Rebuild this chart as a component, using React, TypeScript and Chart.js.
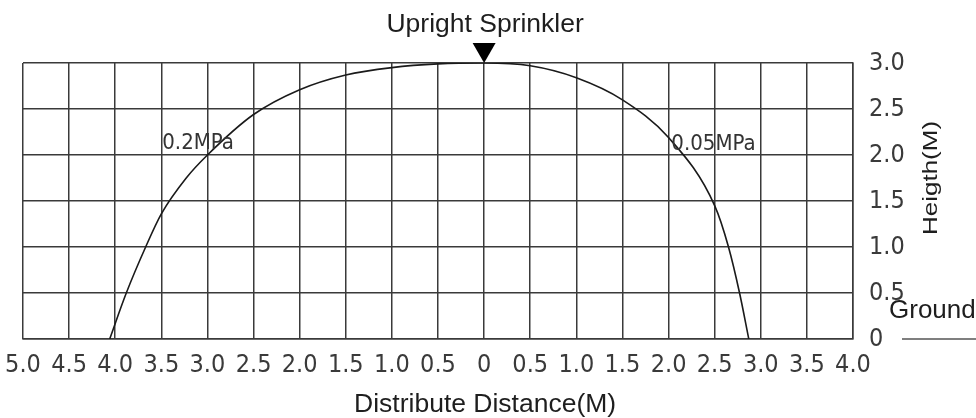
import React, { useEffect, useRef } from "react";
import { Chart, registerables } from "chart.js";

Chart.register(...registerables);

// Spray profile (distance from sprinkler in M, negative = left side)
const distance = [-4.06, -3.88, -3.67, -3.5, -3.23, -3.0, -2.5, -2.0, -1.5, -1.0, -0.5, 0, 0.5, 1.0, 1.5, 2.0, 2.5, 2.65, 2.77, 2.87];
const height = [0, 0.5, 1.0, 1.36, 1.75, 2.0, 2.44, 2.71, 2.87, 2.95, 2.99, 3.0, 2.97, 2.84, 2.6, 2.19, 1.45, 1.0, 0.5, 0];

// Axis ranges / ticks
const xMin = -5;
const xMax = 4;
const xStep = 0.5;
const yMin = 0;
const yMax = 3;
const yStep = 0.5;

// Annotations
const pressureLabels = ["0.2MPa", "0.05MPa"];
const pressureLabelX = [-3.49, 2.03];
const pressureLabelY = [2.07, 2.05];
const sprinklerX = 0;
const sprinklerY = 3;
const titleText = "Upright Sprinkler";
const xTitle = "Distribute Distance(M)";
const yTitle = "Heigth(M)";
const groundText = "Ground";

const NARROW = '"Liberation Sans Narrow", "DejaVu Sans Condensed", "Liberation Sans", sans-serif';
const SANS = '"Liberation Sans", Arial, Helvetica, sans-serif';

const fmtX = (v: number) => (Math.abs(v) < 1e-9 ? "0" : Math.abs(v).toFixed(1));
const fmtY = (v: number) => (Math.abs(v) < 1e-9 ? "0" : v.toFixed(1));

const overlay = {
  id: "overlay",
  afterDraw(chart: any) {
    const ctx = chart.ctx;
    const xs = chart.scales.x;
    const ys = chart.scales.y;
    const px0 = xs.getPixelForValue(sprinklerX);
    const pyTop = ys.getPixelForValue(sprinklerY);
    ctx.save();

    // Title
    ctx.fillStyle = "#1e1e1e";
    ctx.font = `26.5px ${SANS}`;
    ctx.textAlign = "center";
    ctx.textBaseline = "alphabetic";
    ctx.fillText(titleText, px0 + 1, 32);

    // Sprinkler triangle
    ctx.beginPath();
    ctx.moveTo(px0, pyTop);
    ctx.lineTo(px0 - 11.5, pyTop - 20);
    ctx.lineTo(px0 + 11.5, pyTop - 20);
    ctx.closePath();
    ctx.fillStyle = "#000";
    ctx.fill();

    // X title
    ctx.fillStyle = "#1e1e1e";
    ctx.font = `26.5px ${SANS}`;
    ctx.textAlign = "center";
    ctx.fillText(xTitle, px0 + 1, 412);

    // Y title (rotated)
    ctx.save();
    ctx.translate(931, 178);
    ctx.rotate(-Math.PI / 2);
    ctx.scale(1, 0.78);
    ctx.font = `26px ${SANS}`;
    ctx.textAlign = "center";
    ctx.textBaseline = "middle";
    ctx.fillText(yTitle, 0, 0);
    ctx.restore();

    // Pressure labels
    ctx.fillStyle = "#333";
    ctx.font = `22px ${NARROW}`;
    ctx.textAlign = "left";
    ctx.textBaseline = "alphabetic";
    pressureLabels.forEach((t, i) => {
      ctx.fillText(t, xs.getPixelForValue(pressureLabelX[i]), ys.getPixelForValue(pressureLabelY[i]));
    });

    // Ground label and line
    const pyGround = ys.getPixelForValue(0);
    ctx.fillStyle = "#1e1e1e";
    ctx.font = `26px ${SANS}`;
    ctx.fillText(groundText, 889, 318);
    ctx.strokeStyle = "#555";
    ctx.lineWidth = 1.5;
    ctx.beginPath();
    ctx.moveTo(902, pyGround);
    ctx.lineTo(976, pyGround);
    ctx.stroke();

    ctx.restore();
  },
};

export default function App() {
  const ref = useRef<HTMLCanvasElement | null>(null);

  useEffect(() => {
    if (!ref.current) return;
    const points = distance.map((d, i) => ({ x: d, y: height[i] }));
    const chart = new Chart(ref.current, {
      type: "line",
      data: {
        datasets: [
          {
            data: points,
            borderColor: "#1a1a1a",
            borderWidth: 1.6,
            pointRadius: 0,
            fill: false,
            cubicInterpolationMode: "monotone",
          },
        ],
      },
      options: {
        responsive: false,
        animation: false,
        events: [],
        layout: { padding: { left: 23, top: 63, right: 0, bottom: 0 } },
        plugins: {
          legend: { display: false },
          tooltip: { enabled: false },
          title: { display: false },
        },
        scales: {
          x: {
            type: "linear",
            position: "bottom",
            min: xMin,
            max: xMax,
            afterFit: (s: any) => {
              s.height = 79;
              s.paddingLeft = 0;
              s.paddingRight = 0;
            },
            ticks: {
              stepSize: xStep,
              autoSkip: false,
              maxRotation: 0,
              minRotation: 0,
              padding: 11,
              color: "#3a3a3a",
              font: { size: 25, family: NARROW },
              callback: (v: any) => fmtX(Number(v)),
            },
            grid: { color: "#3a3a3a", lineWidth: 1.5, drawTicks: false },
            border: { display: true, color: "#3a3a3a", width: 1.5 },
          },
          y: {
            type: "linear",
            position: "right",
            min: yMin,
            max: yMax,
            afterFit: (s: any) => {
              s.width = 123;
            },
            ticks: {
              stepSize: yStep,
              padding: 16,
              color: "#3a3a3a",
              font: { size: 25, family: NARROW },
              callback: (v: any) => fmtY(Number(v)),
            },
            grid: { color: "#3a3a3a", lineWidth: 1.5, drawTicks: false },
            border: { display: true, color: "#3a3a3a", width: 1.5 },
          },
        },
      },
      plugins: [overlay],
    } as any);
    return () => chart.destroy();
  }, []);

  return (
    <div style={{ position: "fixed", left: 0, top: 0, width: 976, height: 418, background: "#fff" }}>
      <canvas ref={ref} width={976} height={418} style={{ display: "block" }} />
    </div>
  );
}
